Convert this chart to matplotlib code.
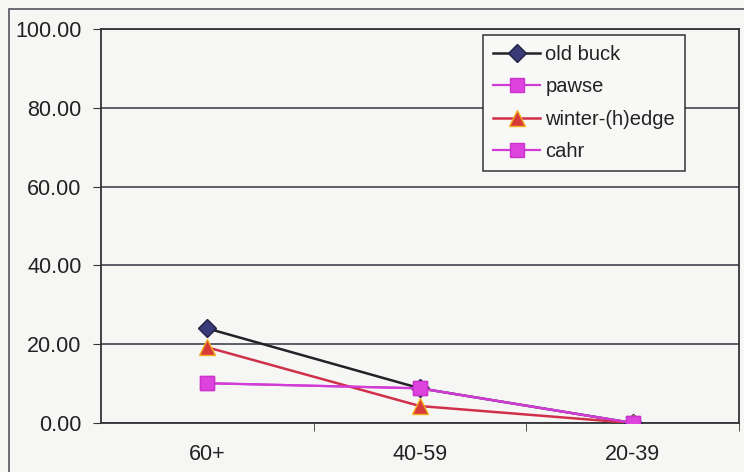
import matplotlib
matplotlib.use("Agg")
import matplotlib.pyplot as plt
from matplotlib.patches import Rectangle

# Age groups and the share of each form (percent)
age_groups = ["60+", "40-59", "20-39"]
old_buck = [24.0, 8.8, 0.0]
pawse = [10.1, 8.8, 0.0]
winter_hedge = [19.2, 4.3, 0.0]
cahr = [10.1, 8.8, 0.0]
y_ticks = [0, 20, 40, 60, 80, 100]

plt.rcParams["font.family"] = ["Liberation Sans", "DejaVu Sans"]

W, H = 744, 472
bg = "#f6f6f4"
fig = plt.figure(figsize=(W / 100, H / 100), dpi=100, facecolor=bg)

# outer chart frame (runs off the right and bottom edges)
fig.patches.append(Rectangle((9 / W, -0.1), 1.2, (H - 9) / H + 0.1,
                             transform=fig.transFigure, fill=False,
                             edgecolor="#555560", linewidth=1.2))

left, right, top, bottom = 101, 739, 29, 423
ax = fig.add_axes([left / W, (H - bottom) / H, (right - left) / W, (bottom - top) / H])
ax.set_facecolor(bg)

x = list(range(len(age_groups)))
ax.set_xlim(-0.5, len(age_groups) - 0.5)
ax.set_ylim(0, 100)

ax.set_yticks(y_ticks)
ax.set_yticklabels([f"{v:.2f}" for v in y_ticks], fontsize=15.5, color="#222222")
ax.yaxis.grid(True, color="#444450", linewidth=1.2)
ax.set_axisbelow(True)

ax.set_xticks(x)
ax.set_xticklabels(age_groups, fontsize=15.5, color="#222222")
ax.tick_params(axis="x", length=0, pad=15)
ax.set_xticks([i + 0.5 for i in range(len(age_groups))], minor=True)
ax.tick_params(axis="x", which="minor", length=6, direction="out", color="#333333")
ax.tick_params(axis="y", length=6, direction="out", color="#333333", pad=8)

for s in ax.spines.values():
    s.set_color("#333338")
    s.set_linewidth(1.3)

ax.plot(x, old_buck, color="#222228", linewidth=1.8, marker="D", markersize=9,
        markerfacecolor="#3a3a78", markeredgecolor="#222244", label="old buck", zorder=3)
ax.plot(x, pawse, color="#d23cd6", linewidth=1.6, marker="s", markersize=10,
        markerfacecolor="#dd44dd", markeredgecolor="#cc33cc", label="pawse", zorder=3)
ax.plot(x, winter_hedge, color="#d0304a", linewidth=1.8, marker="^", markersize=11,
        markerfacecolor="#d83a3a", markeredgecolor="#f0b020", label="winter-(h)edge", zorder=4)
ax.plot(x, cahr, color="#d23cd6", linewidth=1.6, marker="s", markersize=10,
        markerfacecolor="#dd44dd", markeredgecolor="#cc33cc", label="cahr", zorder=5)

leg = ax.legend(loc="upper left", bbox_to_anchor=((483 - left) / (right - left), 1 - (35 - top) / (bottom - top)),
                fontsize=14.5, frameon=True, fancybox=False, borderaxespad=0,
                handlelength=2.35, handletextpad=0.25, labelspacing=0.66, borderpad=0.5)
leg.get_frame().set_edgecolor("#333338")
leg.get_frame().set_facecolor("#f8f8f6")
leg.get_frame().set_linewidth(1.1)
leg.get_frame().set_alpha(1)
for t in leg.get_texts():
    t.set_color("#222222")

fig.savefig("out.png", dpi=100, facecolor=bg)
